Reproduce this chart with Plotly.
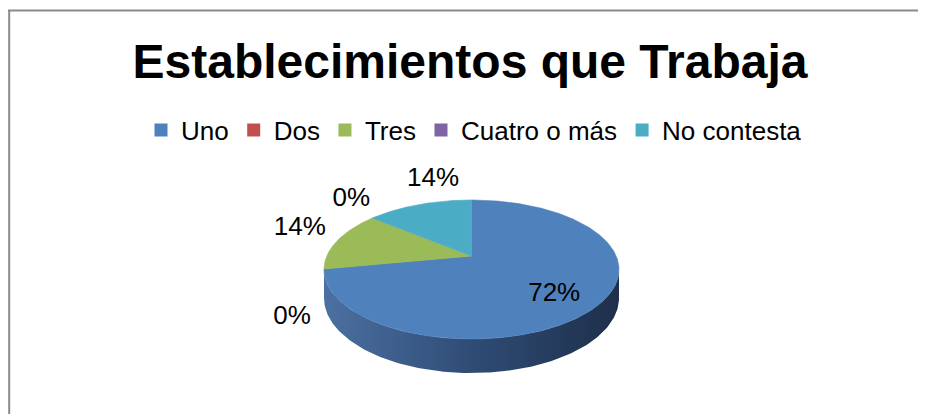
import numpy as np
import plotly.graph_objects as go

# ---- data ----
categories = ["Uno", "Dos", "Tres", "Cuatro o más", "No contesta"]
values = [72, 0, 14, 0, 14]
title_text = "Establecimientos que Trabaja"

# ---- style / layout ----
top_colors = ["#4f81bd", "#c0504d", "#9bbb59", "#8064a2", "#4bacc6"]
wall_scales = [
    [[0, "#4c70a2"], [0.5, "#2f4c75"], [1, "#1e2f4b"]],
    [[0, "#9a3f3d"], [1, "#5e2524"]],
    [[0, "#7d9847"], [1, "#4c5c2b"]],
    [[0, "#67508a"], [1, "#3e3054"]],
    [[0, "#3c8aa0"], [1, "#245563"]],
]
VX, VY = 471.5, 256.0      # projected pie centre (screen px)
A, B = 144.7, 66.9         # horizontal / depth radii of the disc
K = 0.194                  # perspective strength
D = 27.4                   # thickness of the disc
INSIDE_K = 0.65
label_offsets = [(0, 7), (-32, 48), (-38, -12), (-21, -19), (14, -25)]
FONT = "Liberation Sans, Arial, sans-serif"
PAGE_OFF = 8               # page body margin of the html page

total = sum(values)
fracs = [v / total for v in values]
bounds = np.concatenate([[0], np.cumsum(fracs)]) * 360.0


def proj(theta_deg, h=0.0):
    t = np.radians(theta_deg)
    X, Z = np.sin(t), np.cos(t)
    den = 1 + K * Z
    return VX + A * X / den, VY + (-B * Z + h) / den


vis_lo = np.degrees(np.arccos(-K))
vis_hi = 360 - vis_lo

fig = go.Figure()

# side walls (front, visible part)
for i, cat in enumerate(categories):
    a, b = bounds[i], bounds[i + 1]
    lo, hi = max(a, vis_lo), min(b, vis_hi)
    if hi - lo <= 1e-9:
        continue
    th = np.linspace(lo, hi, 150)
    xt, yt = proj(th)
    xb, yb = proj(th[::-1], D)
    xs = np.concatenate([xt, xb, xt[:1]])
    ys = np.concatenate([yt, yb, yt[:1]])
    fig.add_trace(go.Scatter(
        x=xs, y=ys, mode="lines", fill="toself",
        line=dict(width=0, color=top_colors[i]),
        fillgradient=dict(type="horizontal", colorscale=wall_scales[i],
                          start=VX - A * 1.02, stop=VX + A * 1.02),
        hoverinfo="skip", showlegend=False))

# top faces
for i, cat in enumerate(categories):
    a, b = bounds[i], bounds[i + 1]
    if b - a <= 1e-9:
        continue
    th = np.linspace(a, b, max(int((b - a) * 2), 4))
    xe, ye = proj(th)
    xs = np.concatenate([[VX], xe, [VX]])
    ys = np.concatenate([[VY], ye, [VY]])
    fig.add_trace(go.Scatter(
        x=xs, y=ys, mode="lines", fill="toself", fillcolor=top_colors[i],
        line=dict(width=0.6, color=top_colors[i]),
        hoverinfo="skip", showlegend=False))

# data labels
lx, ly, lt = [], [], []
for i, v in enumerate(values):
    mid = (bounds[i] + bounds[i + 1]) / 2.0
    ex, ey = proj(mid)
    if fracs[i] > 0.5:
        px, py = VX + INSIDE_K * (ex - VX), VY + INSIDE_K * (ey - VY)
    else:
        px, py = ex, ey
    lx.append(px + label_offsets[i][0])
    ly.append(py + label_offsets[i][1])
    lt.append(f"{round(fracs[i] * 100)}%")
fig.add_trace(go.Scatter(
    x=lx, y=ly, text=lt, mode="text", textposition="middle center",
    textfont=dict(family=FONT, size=26, color="#000000"),
    hoverinfo="skip", showlegend=False))

# legend entries
for i, cat in enumerate(categories):
    fig.add_trace(go.Scatter(
        x=[None], y=[None], mode="markers", name=cat,
        marker=dict(symbol="square", size=13, color=top_colors[i]),
        showlegend=True))

W, H = 926, 414

# chart border (top and left edges visible)
fig.add_shape(type="line", xref="paper", yref="paper",
              x0=0, x1=1, y0=1 - (10.5 - PAGE_OFF) / H, y1=1 - (10.5 - PAGE_OFF) / H,
              line=dict(color="#8a8a8a", width=2), layer="above")
fig.add_shape(type="line", xref="paper", yref="paper",
              x0=1.2 / W, x1=1.2 / W, y0=0, y1=1 - (10 - PAGE_OFF) / H,
              line=dict(color="#8a8a8a", width=2), layer="above")

fig.update_layout(
    width=W, height=H, autosize=False,
    margin=dict(l=0, r=0, t=0, b=0),
    paper_bgcolor="white", plot_bgcolor="white",
    title=dict(text=f"<b>{title_text}</b>", x=(470 - PAGE_OFF) / W, xanchor="center",
               y=1 - (61 - PAGE_OFF) / H, yanchor="middle",
               font=dict(family=FONT, size=48, color="#000000")),
    legend=dict(orientation="h", x=(474 - PAGE_OFF) / W, xanchor="center",
                y=1 - (130 - PAGE_OFF) / H, yanchor="middle",
                font=dict(family=FONT, size=26, color="#000000"),
                bgcolor="rgba(0,0,0,0)", itemclick=False, itemdoubleclick=False),
    xaxis=dict(range=[PAGE_OFF, W + PAGE_OFF], visible=False, fixedrange=True),
    yaxis=dict(range=[H + PAGE_OFF, PAGE_OFF], visible=False, fixedrange=True),
    showlegend=True,
)

fig.write_html("out.html")
